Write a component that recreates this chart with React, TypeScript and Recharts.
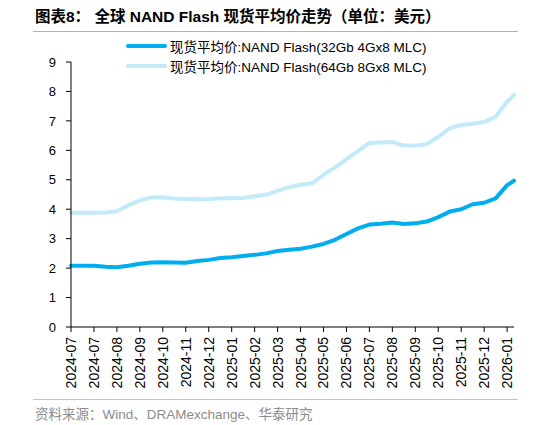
import React from "react";
import { LineChart, Line, XAxis, YAxis } from "recharts";

const START = "2024-07-01";

const sampleDates = [
  "2024-07-01", "2024-07-16", "2024-07-31", "2024-08-15", "2024-08-30",
  "2024-09-14", "2024-09-29", "2024-10-14", "2024-10-29", "2024-11-13",
  "2024-11-28", "2024-12-13", "2024-12-28", "2025-01-12", "2025-01-27",
  "2025-02-11", "2025-02-26", "2025-03-13", "2025-03-28", "2025-04-12",
  "2025-04-27", "2025-05-12", "2025-05-27", "2025-06-11", "2025-06-26",
  "2025-07-11", "2025-07-26", "2025-08-10", "2025-08-25", "2025-09-09",
  "2025-09-24", "2025-10-09", "2025-10-24", "2025-11-08", "2025-11-23",
  "2025-12-08", "2025-12-23", "2026-01-07", "2026-01-22", "2026-01-27",
  "2026-01-31",
];

const mlc32 = [
  2.08, 2.08, 2.08, 2.05, 2.03, 2.08, 2.15, 2.19, 2.2, 2.19,
  2.18, 2.24, 2.28, 2.34, 2.37, 2.41, 2.45, 2.5, 2.58, 2.62,
  2.66, 2.73, 2.82, 2.96, 3.16, 3.35, 3.48, 3.51, 3.55, 3.5,
  3.52, 3.58, 3.73, 3.92, 4.0, 4.17, 4.22, 4.37, 4.82, 4.9,
  4.97,
];

const mlc64 = [
  3.88, 3.88, 3.88, 3.89, 3.93, 4.13, 4.3, 4.4, 4.41, 4.36,
  4.35, 4.34, 4.35, 4.37, 4.37, 4.38, 4.44, 4.49, 4.62, 4.75,
  4.83, 4.88, 5.17, 5.42, 5.7, 5.97, 6.25, 6.27, 6.28, 6.16,
  6.16, 6.21, 6.46, 6.75, 6.86, 6.9, 6.96, 7.14, 7.66, 7.77,
  7.89,
];

const tickDates = [
  "2024-07-01", "2024-07-31", "2024-08-30", "2024-09-29", "2024-10-29",
  "2024-11-28", "2024-12-28", "2025-01-27", "2025-02-26", "2025-03-28",
  "2025-04-27", "2025-05-27", "2025-06-26", "2025-07-26", "2025-08-25",
  "2025-09-24", "2025-10-24", "2025-11-23", "2025-12-23", "2026-01-22",
];

const yTicks = [0, 1, 2, 3, 4, 5, 6, 7, 8, 9];

const seriesNames = [
  "现货平均价:NAND Flash(32Gb 4Gx8 MLC)",
  "现货平均价:NAND Flash(64Gb 8Gx8 MLC)",
];
const colors = ["#00AEEF", "#C2EAF9"];

const dayOf = (s: string) => {
  const [y, m, d] = s.split("-").map(Number);
  const [y0, m0, d0] = START.split("-").map(Number);
  return Math.round((Date.UTC(y, m - 1, d) - Date.UTC(y0, m0 - 1, d0)) / 86400000);
};

const labelOf: Record<number, string> = {};
tickDates.forEach((t) => {
  labelOf[dayOf(t)] = t.slice(0, 7);
});

const data = sampleDates.map((d, i) => ({
  day: dayOf(d),
  a: mlc32[i],
  b: mlc64[i],
}));

const FONT = "'Liberation Sans', Arial, 'Noto Sans CJK SC', sans-serif";

const XTick = (props: any) => {
  const { x, y, payload } = props;
  return (
    <text
      x={0}
      y={0}
      transform={`translate(${x + 5},${y + 3}) rotate(-90)`}
      textAnchor="end"
      fontSize={14}
      fontFamily={FONT}
      fill="#000"
    >
      {labelOf[payload.value] ?? ""}
    </text>
  );
};

export default function App() {
  return (
    <div
      style={{
        position: "absolute",
        left: 0,
        top: 0,
        width: 535,
        height: 425,
        background: "#fff",
        fontFamily: FONT,
      }}
    >
      <div
        style={{
          position: "absolute",
          left: 35,
          top: 4,
          fontSize: 15.5,
          fontWeight: "bold",
          whiteSpace: "nowrap",
          color: "#000",
        }}
      >
        图表8： 全球 NAND Flash 现货平均价走势（单位：美元）
      </div>
      <div
        style={{
          position: "absolute",
          left: 33,
          top: 31,
          width: 485,
          height: 1,
          background: "#9FB6CF",
        }}
      />
      <div
        style={{
          position: "absolute",
          left: 126,
          top: 36,
          fontSize: 13.5,
          color: "#000",
        }}
      >
        {seriesNames.map((n, i) => (
          <div key={n} style={{ display: "flex", alignItems: "center", height: 20 }}>
            <div
              style={{
                width: 41,
                height: 4,
                borderRadius: 2,
                background: colors[i],
                marginRight: 3,
              }}
            />
            <span style={{ whiteSpace: "nowrap" }}>{n}</span>
          </div>
        ))}
      </div>
      <div style={{ position: "absolute", left: 0, top: 0 }}>
        <LineChart
          width={535}
          height={425}
          data={data}
          margin={{ top: 62, right: 21, bottom: 38, left: 31 }}
        >
          <XAxis
            dataKey="day"
            type="number"
            domain={["dataMin", "dataMax"]}
            ticks={tickDates.map(dayOf)}
            interval={0}
            height={60}
            tickSize={5}
            tick={<XTick />}
            axisLine={{ stroke: "#000", strokeWidth: 1 }}
            tickLine={{ stroke: "#000", strokeWidth: 1 }}
          />
          <YAxis
            domain={[0, 9]}
            ticks={yTicks}
            interval={0}
            width={40}
            tickSize={5}
            tickMargin={10}
            tick={{ fontSize: 13, fill: "#000", fontFamily: FONT }}
            axisLine={{ stroke: "#000", strokeWidth: 1 }}
            tickLine={{ stroke: "#000", strokeWidth: 1 }}
          />
          <Line
            type="linear"
            dataKey="b"
            name={seriesNames[1]}
            stroke={colors[1]}
            strokeWidth={4}
            dot={false}
            strokeLinecap="round"
            strokeLinejoin="round"
            isAnimationActive={false}
          />
          <Line
            type="linear"
            dataKey="a"
            name={seriesNames[0]}
            stroke={colors[0]}
            strokeWidth={4}
            dot={false}
            strokeLinecap="round"
            strokeLinejoin="round"
            isAnimationActive={false}
          />
        </LineChart>
      </div>
      <div
        style={{
          position: "absolute",
          left: 33,
          top: 399,
          width: 485,
          height: 1,
          background: "#B9C8D8",
        }}
      />
      <div
        style={{
          position: "absolute",
          left: 35,
          top: 403,
          fontSize: 13.5,
          color: "#8C8C8C",
          whiteSpace: "nowrap",
        }}
      >
        资料来源：Wind、DRAMexchange、华泰研究
      </div>
    </div>
  );
}
